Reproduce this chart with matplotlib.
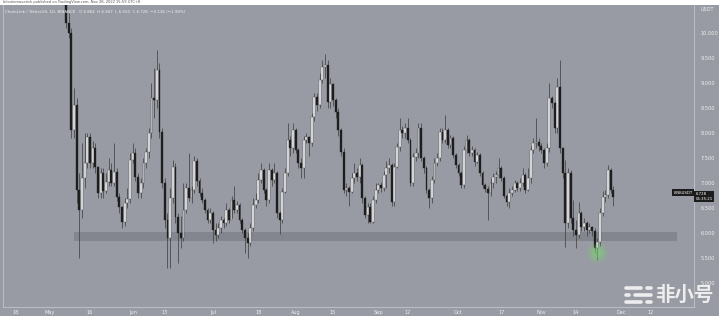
"""LINK/USDT daily candles with the support zone, TradingView style."""

import matplotlib
matplotlib.use("Agg")
import matplotlib.pyplot as plt
import matplotlib.dates as mdates
from matplotlib.lines import Line2D
from matplotlib.patches import Rectangle
import numpy as np
import pandas as pd

# daily candles, first one on START; open of each day = previous close
START = "2022-05-07"
FIRST_OPEN = 10.9

CLOSES = [
    10.2, 10.0, 8.06, 8.56, 6.86, 6.46, 7.1, 7.4, 7.92, 7.4,
    7.7, 7.32, 6.8, 7.2, 6.85, 7.02, 7.26, 7.0, 7.22, 6.72,
    6.52, 6.22, 6.6, 6.68, 7.46, 7.6, 7.12, 6.8, 7.0, 7.4,
    7.62, 8.0, 8.7, 8.66, 9.26, 8.02, 7.0, 6.26, 5.9, 6.7,
    7.32, 6.32, 6.0, 5.9, 6.46, 6.9, 6.7, 6.86, 7.44, 7.04,
    6.8, 6.66, 6.46, 6.26, 6.4, 6.06, 5.96, 6.1, 6.26, 6.2,
    6.46, 6.26, 6.66, 6.46, 6.56, 6.26, 6.06, 5.9, 5.8, 6.1,
    6.56, 6.66, 7.06, 7.26, 6.86, 6.66, 7.26, 7.06, 7.2, 6.4,
    6.26, 6.82, 7.2, 7.86, 7.7, 8.06, 7.66, 7.4, 7.3, 7.86,
    7.92, 7.8, 8.32, 8.72, 8.56, 9.06, 9.32, 9.36, 8.62, 8.98,
    8.66, 8.42, 8.06, 7.62, 6.86, 6.9, 6.82, 7.1, 7.2, 7.12,
    7.36, 6.7, 6.36, 6.52, 6.22, 6.66, 6.86, 6.96, 6.9, 7.16,
    7.3, 7.36, 6.62, 7.32, 7.72, 8.06, 8.0, 8.1, 7.86, 7.0,
    7.52, 7.6, 8.1, 7.5, 7.3, 6.86, 6.7, 7.06, 7.4, 7.5,
    8.02, 7.86, 8.06, 7.76, 7.9, 7.56, 7.36, 7.2, 6.96, 7.66,
    7.86, 7.6, 7.66, 7.42, 7.56, 7.2, 6.96, 6.88, 6.8, 7.0,
    7.12, 7.16, 7.3, 7.1, 6.74, 6.62, 6.8, 6.86, 7.0, 6.9,
    7.0, 7.16, 6.86, 7.1, 7.66, 7.8, 7.82, 7.74, 7.66, 7.4,
    7.7, 8.7, 8.6, 8.1, 8.92, 7.7, 7.2, 6.2, 7.2, 6.3,
    6.06, 5.96, 6.4, 6.12, 6.2, 6.06, 6.12, 6.04, 5.7, 5.82,
    6.4, 6.72, 6.76, 7.26, 6.864, 6.728,
]
HIGHS = [
    11.0, 10.4, 10.1, 8.9, 8.7, 7.2, 7.8, 8.0, 8.0, 8.0,
    7.85, 7.8, 7.35, 7.3, 7.3, 7.2, 7.5, 7.4, 7.8, 7.3,
    6.8, 6.55, 6.7, 6.9, 7.6, 7.8, 7.7, 7.2, 7.1, 7.5,
    7.7, 8.1, 9.0, 9.3, 9.66, 9.4, 8.1, 7.1, 6.4, 6.9,
    7.46, 7.4, 6.4, 6.35, 7.0, 7.0, 7.6, 6.95, 7.55, 7.5,
    7.1, 6.9, 6.7, 6.5, 6.5, 6.45, 6.2, 6.2, 6.35, 6.3,
    6.6, 6.5, 6.75, 6.95, 6.65, 6.6, 6.3, 6.1, 6.0, 6.2,
    6.7, 6.8, 7.2, 7.4, 7.3, 6.9, 7.4, 7.3, 7.4, 7.25,
    6.45, 6.9, 7.3, 8.2, 7.95, 8.2, 8.1, 7.7, 7.5, 7.95,
    8.0, 7.95, 8.4, 8.8, 8.8, 9.2, 9.46, 9.58, 9.46, 9.1,
    9.0, 8.7, 8.5, 8.1, 7.7, 7.0, 6.95, 7.2, 7.4, 7.3,
    7.5, 7.4, 6.75, 6.6, 6.6, 6.75, 7.0, 7.0, 7.02, 7.25,
    7.45, 7.5, 7.4, 7.4, 7.8, 8.3, 8.15, 8.2, 8.3, 7.9,
    7.6, 7.7, 8.2, 8.2, 7.55, 7.35, 6.9, 7.15, 7.5, 7.6,
    8.1, 8.1, 8.36, 8.1, 7.96, 7.95, 7.6, 7.4, 7.25, 7.75,
    7.96, 7.9, 7.75, 7.7, 7.62, 7.6, 7.25, 7.0, 6.95, 7.1,
    7.2, 7.25, 7.5, 7.35, 7.15, 6.78, 6.9, 6.95, 7.06, 7.05,
    7.1, 7.3, 7.2, 7.3, 7.75, 7.9, 8.3, 7.9, 7.8, 7.7,
    7.8, 9.0, 8.75, 8.65, 9.1, 9.46, 7.72, 7.46, 7.3, 7.26,
    6.66, 6.26, 6.62, 6.45, 6.3, 6.25, 6.2, 6.15, 6.1, 5.9,
    6.5, 6.85, 6.86, 7.36, 7.3, 6.947,
]
LOWS = [
    10.1, 9.9, 7.9, 7.9, 6.6, 5.5, 6.3, 6.9, 7.3, 7.3,
    7.3, 7.2, 6.7, 6.7, 6.7, 6.8, 6.95, 6.95, 6.95, 6.65,
    6.4, 6.1, 6.15, 6.5, 6.6, 7.4, 7.05, 6.7, 6.7, 6.9,
    7.3, 7.5, 7.9, 8.3, 8.5, 7.9, 6.9, 6.1, 5.3, 5.3,
    6.6, 6.2, 5.4, 5.7, 5.85, 6.4, 6.65, 6.6, 6.8, 6.95,
    6.75, 6.6, 6.4, 6.2, 6.2, 5.8, 5.85, 5.9, 6.0, 6.1,
    6.15, 6.2, 6.3, 6.4, 6.4, 6.2, 6.0, 5.6, 5.5, 5.75,
    6.05, 6.5, 6.6, 7.0, 6.8, 6.55, 6.6, 6.95, 7.0, 6.3,
    5.98, 6.2, 6.8, 7.15, 7.55, 7.6, 7.6, 7.3, 7.1, 7.1,
    7.8, 7.55, 7.75, 8.25, 8.45, 8.5, 9.0, 9.1, 8.5, 8.5,
    8.55, 8.3, 7.95, 7.55, 6.8, 6.75, 6.55, 6.8, 7.0, 7.05,
    7.0, 6.6, 6.3, 6.2, 6.2, 6.2, 6.6, 6.8, 6.82, 6.85,
    6.9, 7.2, 6.55, 6.55, 7.3, 7.65, 7.9, 7.9, 7.8, 6.95,
    6.95, 7.45, 7.5, 7.45, 7.2, 6.8, 6.5, 6.6, 7.0, 7.35,
    7.45, 7.8, 7.8, 7.7, 7.7, 7.5, 7.3, 7.15, 6.9, 6.9,
    7.6, 7.55, 7.55, 7.35, 7.4, 7.15, 6.9, 6.82, 6.26, 6.75,
    6.9, 7.0, 7.1, 7.05, 6.7, 6.55, 6.5, 6.75, 6.82, 6.85,
    6.85, 6.95, 6.8, 6.85, 7.0, 7.6, 7.7, 7.65, 7.6, 7.3,
    7.35, 7.62, 8.5, 8.0, 8.0, 7.6, 7.1, 5.72, 6.1, 6.2,
    5.95, 5.7, 5.9, 6.05, 6.05, 5.95, 6.0, 5.95, 5.6, 5.46,
    5.75, 6.35, 6.62, 6.7, 6.8, 6.55,
]

Y_TICKS = [5.0, 5.5, 6.0, 6.5, 7.0, 7.5, 8.0, 8.5, 9.0, 9.5, 10.0]
X_TICK_DATES = [
    "2022-04-18", "2022-05-01", "2022-05-16", "2022-06-01", "2022-06-13",
    "2022-07-01", "2022-07-18", "2022-08-01", "2022-08-15", "2022-09-01",
    "2022-09-12", "2022-10-01", "2022-10-17", "2022-11-01", "2022-11-14",
    "2022-12-01", "2022-12-12",
]
X_TICK_LABELS = [
    "18", "May", "16", "Jun", "13", "Jul", "18", "Aug", "15", "Sep",
    "12", "Oct", "17", "Nov", "14", "Dec", "12",
]

# support zone drawn on the chart
ZONE_LOW, ZONE_HIGH = 5.84, 6.02
ZONE_START, ZONE_END = "2022-05-10", "2022-12-22"

# green highlight around the November low
GLOW_DATE, GLOW_PRICE = "2022-11-22", 5.6

BG = "#989ba3"
TXT = "#f0f0f0"


def main() -> None:
    closes = np.array(CLOSES)
    highs = np.array(HIGHS)
    lows = np.array(LOWS)
    opens = np.concatenate([[FIRST_OPEN], closes[:-1]])
    dates = pd.date_range(START, periods=len(closes), freq="D")
    x = mdates.date2num(dates)
    up = closes >= opens

    fig = plt.figure(figsize=(7.19, 3.16), dpi=100, facecolor=BG)
    ax = fig.add_axes([3 / 719, 9 / 316, 691 / 719, 302 / 316])
    ax.set_facecolor(BG)

    x0 = mdates.date2num(pd.Timestamp("2022-05-01"))
    ax.set_xlim(x0 - 17.6, x0 + 241.2)
    ax.set_ylim(4.52, 10.56)

    # support zone
    zs = mdates.date2num(pd.Timestamp(ZONE_START))
    ze = mdates.date2num(pd.Timestamp(ZONE_END))
    ax.add_patch(Rectangle((zs, ZONE_LOW), ze - zs, ZONE_HIGH - ZONE_LOW,
                           facecolor="#83868e", edgecolor="none", zorder=1))

    # candles
    ax.vlines(x, lows, highs, color="#3c3c3c", lw=0.5, zorder=2)
    body = np.maximum(np.abs(closes - opens), 0.01)
    bottom = np.minimum(opens, closes)
    ax.bar(x[up], body[up], bottom=bottom[up], width=0.7,
           color="#f4f4f4", edgecolor="#3c3c3c", lw=0.25, zorder=3)
    ax.bar(x[~up], body[~up], bottom=bottom[~up], width=0.7,
           color="#1e1e1e", edgecolor="#1e1e1e", lw=0.25, zorder=3)

    # green glow
    gx = mdates.date2num(pd.Timestamp(GLOW_DATE))
    for s, a in [(260, 0.08), (170, 0.12), (100, 0.18), (45, 0.25)]:
        ax.scatter([gx], [GLOW_PRICE], s=s, color="#79e06e", alpha=a,
                   edgecolors="none", zorder=4)

    # axes styling
    for side in ["top"]:
        ax.spines[side].set_visible(False)
    for side in ["left", "right", "bottom"]:
        ax.spines[side].set_color("#b9bcc2")
        ax.spines[side].set_linewidth(0.8)

    ax.yaxis.tick_right()
    ax.set_yticks(Y_TICKS)
    ax.set_yticklabels([f"{v:.3f}" for v in Y_TICKS])
    ax.tick_params(axis="y", length=0, labelsize=3.6, colors=TXT, pad=4.5)
    ax.set_xticks(mdates.date2num(pd.to_datetime(X_TICK_DATES)))
    ax.set_xticklabels(X_TICK_LABELS)
    ax.tick_params(axis="x", length=0, labelsize=3.6, colors=TXT, pad=2.5)

    ax.text(1.009, 0.984, "USDT", transform=ax.transAxes, fontsize=3.6,
            color=TXT, ha="left", va="center")

    # legend line
    last_o, last_h, last_l, last_c = opens[-1], highs[-1], lows[-1], closes[-1]
    chg = last_c - last_o
    legend = (f"ChainLink / TetherUS, 1D, BINANCE   O {last_o:.3f}  H {last_h:.3f}  "
              f"L {last_l:.3f}  C {last_c:.3f}  {chg:+.3f} ({chg / last_o * 100:+.2f}%)")
    ax.text(0.003, 0.982, legend.replace("-", "\u2212"), transform=ax.transAxes,
            fontsize=2.9, color=TXT, ha="left", va="top")

    # last price labels
    yt = ax.get_yaxis_transform()
    ax.text(0.998, last_c + 0.08, "LINKUSDT", transform=yt, fontsize=2.8,
            color="white", ha="right", va="center",
            bbox=dict(boxstyle="square,pad=0.3", fc="#1c1c1c", ec="none"))
    ax.text(1.002, last_c, f"{last_c:.3f}\n05:35:21", transform=yt, fontsize=2.8,
            color="white", ha="left", va="center", linespacing=1.1,
            bbox=dict(boxstyle="square,pad=0.4", fc="#1c1c1c", ec="none"))

    # header strip
    fig.patches.append(Rectangle((0, 311 / 316), 1, 5 / 316, transform=fig.transFigure,
                                 facecolor="white", edgecolor="none", zorder=0))
    fig.text(0.004, 313.5 / 316, "bitcoinmaverick published on TradingView.com, Nov 28, 2022 15:59 UTC+8",
             fontsize=2.6, color="#555555", ha="left", va="center")

    # watermark
    wm = "#f7f7f7"
    for y, segs in [(288, [(626, 641), (647, 651)]),
                    (295, [(626, 629), (635, 651)]),
                    (302, [(626, 641), (647, 651)])]:
        for xa, xb in segs:
            fig.add_artist(Line2D([xa / 719, xb / 719], [1 - y / 316, 1 - y / 316],
                                  transform=fig.transFigure, color=wm, lw=2.6,
                                  solid_capstyle="round", alpha=0.9))
    fig.text(655 / 719, 1 - 295 / 316, "非小号", fontsize=14, color=wm, alpha=0.9,
             ha="left", va="center", family=["Noto Sans CJK SC", "DejaVu Sans"],
             fontweight="bold")

    fig.savefig("out.png", dpi=100, facecolor=BG)
    plt.close(fig)


if __name__ == "__main__":
    main()
